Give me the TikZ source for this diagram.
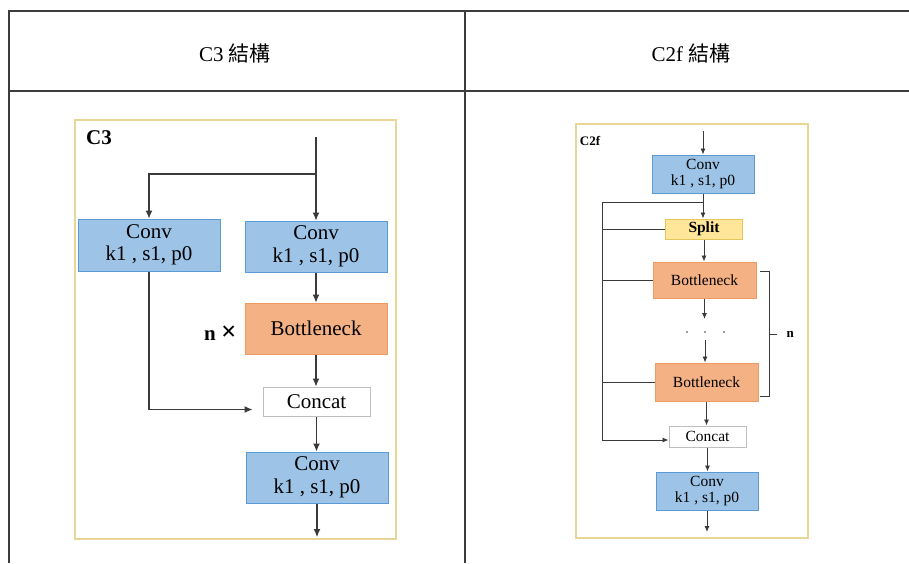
\documentclass[tikz,border=0pt]{standalone}
\usepackage{fontspec}
\setmainfont{Liberation Serif}
\newfontfamily\cjk{Noto Sans CJK TC}
\usetikzlibrary{shapes,arrows.meta,positioning}

\definecolor{tablegray}{HTML}{3C3C3C}
\definecolor{framegold}{HTML}{E9D596}
\definecolor{linegray}{HTML}{3A3A3A}
\definecolor{convblue}{HTML}{9DC3E6}
\definecolor{convedge}{HTML}{5B9BD5}
\definecolor{neckorange}{HTML}{F4B183}
\definecolor{neckedge}{HTML}{ED9B63}
\definecolor{splityellow}{HTML}{FFE699}
\definecolor{splitedge}{HTML}{E8C55C}
\definecolor{catedge}{HTML}{BFBFBF}

\begin{document}
\begin{tikzpicture}[x=1pt,y=-1pt]
			\tikzstyle{Table}	= [line width=1.4pt, draw=tablegray]
			\tikzstyle{Frame}	= [line width=1.5pt, draw=framegold]
			\tikzstyle{Block}	= [rectangle, draw, inner sep=0pt, align=center, line width=1pt]
			\tikzstyle{BigFont}	= [font=\fontsize{21}{22.5}\selectfont]
			\tikzstyle{SmallFont}	= [font=\fontsize{15.5}{16}\selectfont]
			\tikzstyle{ConvA}	= [Block, BigFont, fill=convblue, draw=convedge, minimum width=142pt, minimum height=51pt]
			\tikzstyle{NeckA}	= [Block, BigFont, fill=neckorange, draw=neckedge, minimum width=142pt, minimum height=51pt]
			\tikzstyle{CatA}	= [Block, BigFont, fill=white, draw=catedge, minimum width=107pt, minimum height=29pt]
			\tikzstyle{ConvB}	= [Block, SmallFont, fill=convblue, draw=convedge, minimum width=102pt, minimum height=38pt]
			\tikzstyle{NeckB}	= [Block, SmallFont, fill=neckorange, draw=neckedge, minimum width=103pt, minimum height=37pt]
			\tikzstyle{SplitB}	= [Block, SmallFont, fill=splityellow, draw=splitedge, minimum width=77pt, minimum height=20pt]
			\tikzstyle{CatB}	= [Block, SmallFont, fill=white, draw=catedge, minimum width=77pt, minimum height=21pt]
			\tikzstyle{LinkA}	= [line width=1.1pt, draw=linegray]
			\tikzstyle{ArrA}	= [LinkA, -{Latex[length=8pt,width=7pt]}]
			\tikzstyle{LinkB}	= [line width=0.9pt, draw=linegray]
			\tikzstyle{ArrB}	= [LinkB, -{Latex[length=6pt,width=5pt]}]

			\useasboundingbox (0,0) rectangle (909,563);

			% table
			\draw [Table] (9,563) -- (9,11) -- (909,11);
			\draw [Table] (9,91) -- (909,91);
			\draw [Table] (465,11) -- (465,563);
			\node (head3) at (235,53) [font=\fontsize{21}{23}\selectfont] {C3 {\cjk 結構}};
			\node (head2f) at (691,53) [font=\fontsize{21}{23}\selectfont] {C2f {\cjk 結構}};

			% C3
			\draw [Frame] (75,120) rectangle (396,539);
			\node (tag3) at (99,138) [font=\fontsize{21}{22}\bfseries] {C3};
			\node (convL) at (149,245) [ConvA, minimum height=52pt] {Conv\\k1 , s1, p0};
			\node (convR) at (316,246.5) [ConvA] {Conv\\k1 , s1, p0};
			\node (neck) at (316,328.5) [NeckA] {Bottleneck};
			\node (cat) at (316.5,401.5) [CatA] {Concat};
			\node (convO) at (317,477.5) [ConvA] {Conv\\k1 , s1, p0};
			\node (times) at (240,333) [anchor=east, font=\fontsize{21}{22}\bfseries] {n {\fontsize{27}{27}\selectfont ×}};
			\coordinate (in3) at (316,137);
			\coordinate (fork3) at (316,174);
			\coordinate (out3) at (317,537);

			\draw [ArrA] (in3) -- (convR);
			\draw [ArrA] (fork3) -| (convL.north);
			\draw [ArrA] (convL.south) |- ([xshift=-10pt,yshift=7pt]cat.south west);
			\foreach \a/\b in {convR/neck, neck/cat, cat/convO, convO/out3}
				\draw [ArrA] (\a.south) -- (\a.south |- \b.north);

			% C2f
			\draw [Frame] (576,124) rectangle (808,538);
			\node (tag2f) at (590,141) [font=\fontsize{13}{14}\bfseries] {C2f};
			\node (conv1) at (703,174) [ConvB] {Conv\\k1 , s1, p0};
			\node (split) at (704,229) [SplitB, font=\fontsize{15.5}{16}\bfseries] {Split};
			\node (neck1) at (704.5,280) [NeckB, minimum height=36pt] {Bottleneck};
			\node (neck2) at (706.5,382) [NeckB, minimum height=38pt] {Bottleneck};
			\node (cat2) at (707.5,436.5) [CatB] {Concat};
			\node (conv2) at (707,491) [ConvB] {Conv\\k1 , s1, p0};
			\coordinate (in2) at (703,131);
			\coordinate (fork2) at (703,202);
			\coordinate (railT) at (602,202);
			\coordinate (railB) at (602,440);
			\coordinate (dotT) at (705,319);
			\coordinate (dotB) at (705,340);
			\coordinate (out2) at (707,532);

			\draw [ArrB] (in2) -- (conv1);
			\draw [LinkB] (fork2) -- (railT) -- (railB);
			\draw [ArrB] (railB) -- (railB -| cat2.west);
			\foreach \a in {split, neck1, neck2}
				\draw [LinkB] (\a.west) -- (\a.west -| railT);
			\foreach \a/\b in {conv1/split, split/neck1, neck1/dotT, neck2/cat2, cat2/conv2, conv2/out2}
				\draw [ArrB] (\a.south) -- (\a.south |- \b.north);
			\draw [ArrB] (dotB) -- (dotB |- neck2.north);
			\foreach \x in {687, 705, 724}
				\fill [linegray] (\x,332) circle (0.8);

			% brace for n
			\coordinate (brT) at (760,271);
			\coordinate (brB) at (760,396);
			\draw [LinkB] (brT) -- ++(9,0) coordinate (brTR) -- (brTR |- brB) -- (brB);
			\draw [LinkB] (769,334) -- (777,334) coordinate (brM);
			\node (reps) at (brM) [anchor=west, xshift=6pt, font=\fontsize{13}{14}\bfseries] {n};
		\end{tikzpicture}
\end{document}
